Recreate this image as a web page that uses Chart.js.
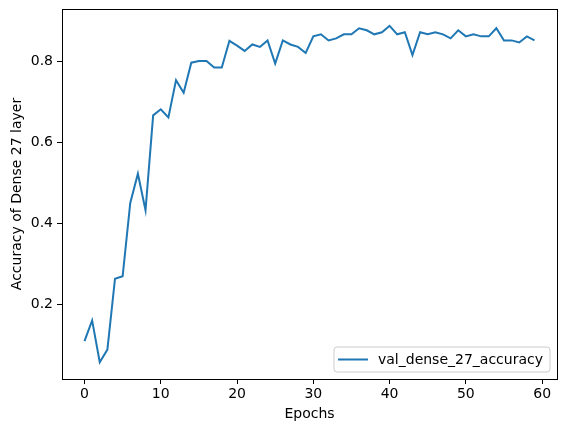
<!DOCTYPE html>
<html>
<head>
<meta charset="utf-8">
<script src="https://cdn.jsdelivr.net/npm/chart.js@4/dist/chart.umd.min.js"></script>
<style>
html,body{margin:0;padding:0;background:#fff;}
#wrap{width:567px;height:432px;}
</style>
</head>
<body>
<div id="wrap"><canvas id="c" width="567" height="432"></canvas></div>
<script>
const epochs = Array.from({length: 60}, (_, i) => i);
const valAccuracy = [
  0.110, 0.161, 0.058, 0.089, 0.264, 0.270, 0.451, 0.523, 0.433, 0.667,
  0.682, 0.662, 0.754, 0.723, 0.797, 0.801, 0.801, 0.785, 0.785, 0.851,
  0.839, 0.826, 0.842, 0.836, 0.852, 0.795, 0.852, 0.842, 0.836, 0.821,
  0.862, 0.867, 0.852, 0.857, 0.867, 0.867, 0.882, 0.877, 0.867, 0.872,
  0.888, 0.867, 0.872, 0.816, 0.872, 0.867, 0.872, 0.867, 0.857, 0.877,
  0.862, 0.867, 0.862, 0.862, 0.882, 0.852, 0.852, 0.847, 0.862, 0.852
];
const seriesLabel = 'val_dense_27_accuracy';
const xTicks = [0, 10, 20, 30, 40, 50, 60];
const yTicks = [0.2, 0.4, 0.6, 0.8];
const xTitle = 'Epochs';
const yTitle = 'Accuracy of Dense 27 layer';

const FONT = 'DejaVu Sans';
const lineColor = '#1f77b4';

const frameAndLegend = {
  id: 'frameAndLegend',
  afterDraw(chart) {
    const ctx = chart.ctx;
    const a = chart.chartArea;
    ctx.save();
    ctx.strokeStyle = '#000';
    ctx.lineWidth = 1;
    ctx.strokeRect(Math.round(a.left) + 0.5, Math.round(a.top) + 0.5,
                   Math.round(a.right - a.left), Math.round(a.bottom - a.top));
    // legend (lower right)
    const ds = chart.data.datasets[0];
    ctx.font = '14px "' + FONT + '"';
    const tw = ctx.measureText(ds.label).width;
    const bw = tw + 51;
    const bh = 25;
    const bx = a.right - 7 - bw;
    const by = a.bottom - 7 - bh;
    ctx.beginPath();
    const r = 3;
    ctx.moveTo(bx + r, by);
    ctx.lineTo(bx + bw - r, by);
    ctx.quadraticCurveTo(bx + bw, by, bx + bw, by + r);
    ctx.lineTo(bx + bw, by + bh - r);
    ctx.quadraticCurveTo(bx + bw, by + bh, bx + bw - r, by + bh);
    ctx.lineTo(bx + r, by + bh);
    ctx.quadraticCurveTo(bx, by + bh, bx, by + bh - r);
    ctx.lineTo(bx, by + r);
    ctx.quadraticCurveTo(bx, by, bx + r, by);
    ctx.closePath();
    ctx.fillStyle = 'rgba(255,255,255,0.8)';
    ctx.fill();
    ctx.strokeStyle = '#cccccc';
    ctx.lineWidth = 1;
    ctx.stroke();
    ctx.beginPath();
    ctx.strokeStyle = ds.borderColor;
    ctx.lineWidth = 2;
    ctx.moveTo(bx + 4, by + bh / 2);
    ctx.lineTo(bx + 34, by + bh / 2);
    ctx.stroke();
    ctx.fillStyle = '#000';
    ctx.textBaseline = 'middle';
    ctx.textAlign = 'left';
    ctx.fillText(ds.label, bx + 44, by + bh / 2 + 1);
    ctx.restore();
  }
};

new Chart(document.getElementById('c'), {
  type: 'line',
  data: {
    datasets: [{
      label: seriesLabel,
      data: epochs.map((e, i) => ({x: e, y: valAccuracy[i]})),
      borderColor: lineColor,
      backgroundColor: lineColor,
      borderWidth: 2,
      pointRadius: 0,
      tension: 0,
      fill: false
    }]
  },
  options: {
    responsive: false,
    animation: false,
    devicePixelRatio: 1,
    layout: {padding: {top: 9, right: 10, left: 0, bottom: 0}},
    plugins: {legend: {display: false}, tooltip: {enabled: false}},
    scales: {
      x: {
        type: 'linear',
        min: -2.95,
        max: 61.95,
        afterBuildTicks(s) { s.ticks = xTicks.map(v => ({value: v})); },
        afterFit(s) { s.height = 53; s.paddingLeft = 0; s.paddingRight = 0; },
        grid: {display: true, drawOnChartArea: false, drawTicks: true, tickLength: 5, color: '#000', tickWidth: 1},
        border: {display: true, color: '#000', width: 1},
        ticks: {color: '#000', font: {family: FONT, size: 14}, padding: 2, maxRotation: 0,
                callback: v => String(v)},
        title: {display: true, text: xTitle, color: '#000', font: {family: FONT, size: 14},
                padding: {top: 0, bottom: 9}}
      },
      y: {
        type: 'linear',
        min: 0.0165,
        max: 0.9295,
        afterBuildTicks(s) { s.ticks = yTicks.map(v => ({value: v})); },
        afterFit(s) { s.width = 62; s.paddingTop = 0; s.paddingBottom = 0; },
        grid: {display: true, drawOnChartArea: false, drawTicks: true, tickLength: 5, color: '#000', tickWidth: 1},
        border: {display: true, color: '#000', width: 1},
        ticks: {color: '#000', font: {family: FONT, size: 14}, padding: 4,
                callback: v => v.toFixed(1)},
        title: {display: true, text: yTitle, color: '#000', font: {family: FONT, size: 14},
                padding: {top: 9, bottom: 0}}
      }
    }
  },
  plugins: [frameAndLegend]
});
</script>
</body>
</html>
